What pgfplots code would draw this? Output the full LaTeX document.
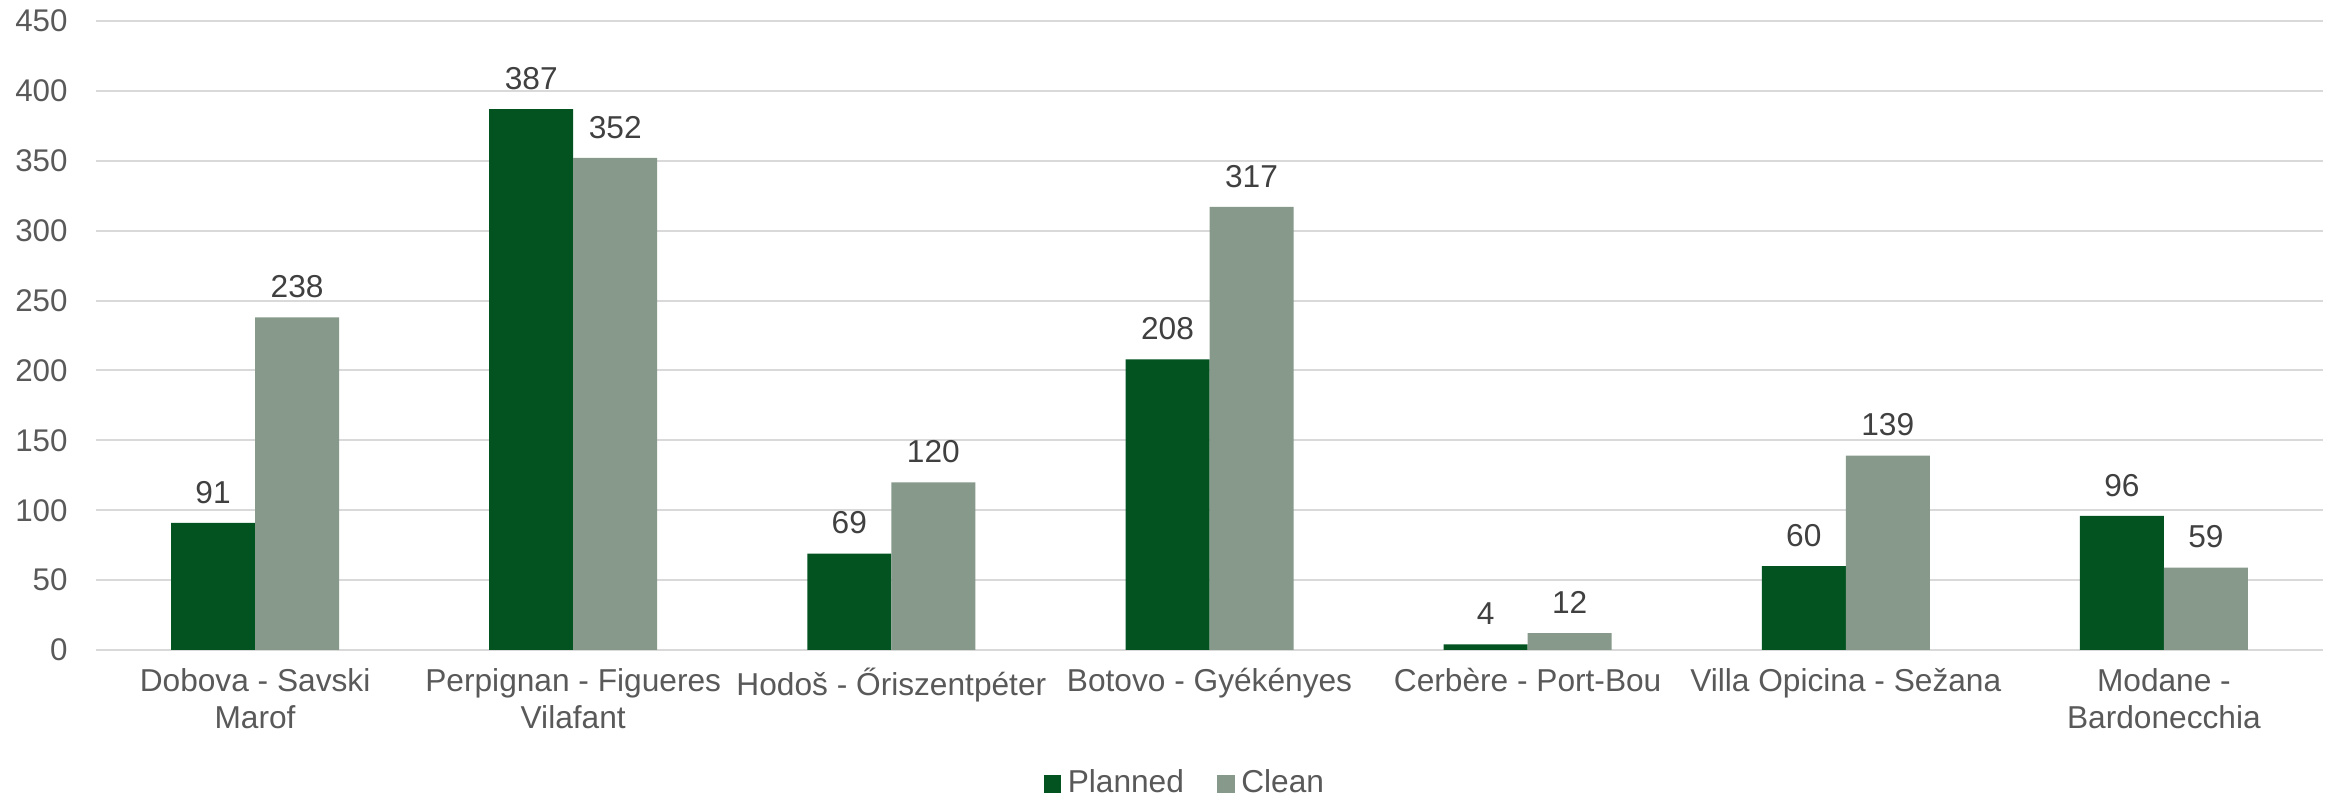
\documentclass[border=0pt]{standalone}
\usepackage{pgfplots}
\pgfplotsset{compat=1.18}
\usepackage{fontspec}
\setmainfont{Liberation Sans}
\definecolor{planned}{HTML}{02531F}
\definecolor{clean}{HTML}{86998A}
\definecolor{gridc}{HTML}{D9D9D9}
\definecolor{tickc}{HTML}{595959}
\definecolor{labc}{HTML}{404040}
\begin{document}
\begin{tikzpicture}
\begin{axis}[
  scale only axis,
  width=668.1pt, height=188.7pt,
  ybar=0pt, bar width=25.2pt,
  ymin=0, ymax=450, ytick={0,50,...,450},
  xmin=-0.5, xmax=6.5,
  xtick=data,
  xticklabels={{Dobova - Savski\\Marof},{Perpignan - Figueres\\Vilafant},{Hodoš - Őriszentpéter},{Botovo - Gyékényes},{Cerbère - Port-Bou},{Villa Opicina - Sežana},{Modane -\\Bardonecchia}},
  xticklabel style={align=center, font=\fontsize{9.5}{11.2}\selectfont, text=tickc, yshift=-2pt},
  yticklabel style={font=\fontsize{9.4}{11}\selectfont, text=tickc, xshift=-5pt},
  /pgf/number format/assume math mode=true,
  major tick length=0pt,
  axis line style={draw=none},
  ymajorgrids, grid style={gridc, line width=0.6pt},
  nodes near coords,
  every node near coord/.append style={font=\fontsize{9.5}{11}\selectfont, text=labc, yshift=2.3pt},
  legend style={at={(0.49,-0.213)}, anchor=center, draw=none, legend columns=2,
    font=\fontsize{9.5}{11}\selectfont, text=tickc,
    /tikz/every even column/.append style={column sep=8pt}},
  legend image code/.code={\fill[#1] (0pt,-2.6pt) rectangle (5.2pt,2.6pt);},
]
\addplot[fill=planned, draw=none] coordinates {(0,91) (1,387) (2,69) (3,208) (4,4) (5,60) (6,96)};
\addplot[fill=clean, draw=none] coordinates {(0,238) (1,352) (2,120) (3,317) (4,12) (5,139) (6,59)};
\legend{Planned, Clean}
\end{axis}
\pgfresetboundingbox
\path (current axis.south west) ++(-28.8pt,-45.3pt) rectangle ++(698.4pt,240.3pt);
\end{tikzpicture}
\end{document}
